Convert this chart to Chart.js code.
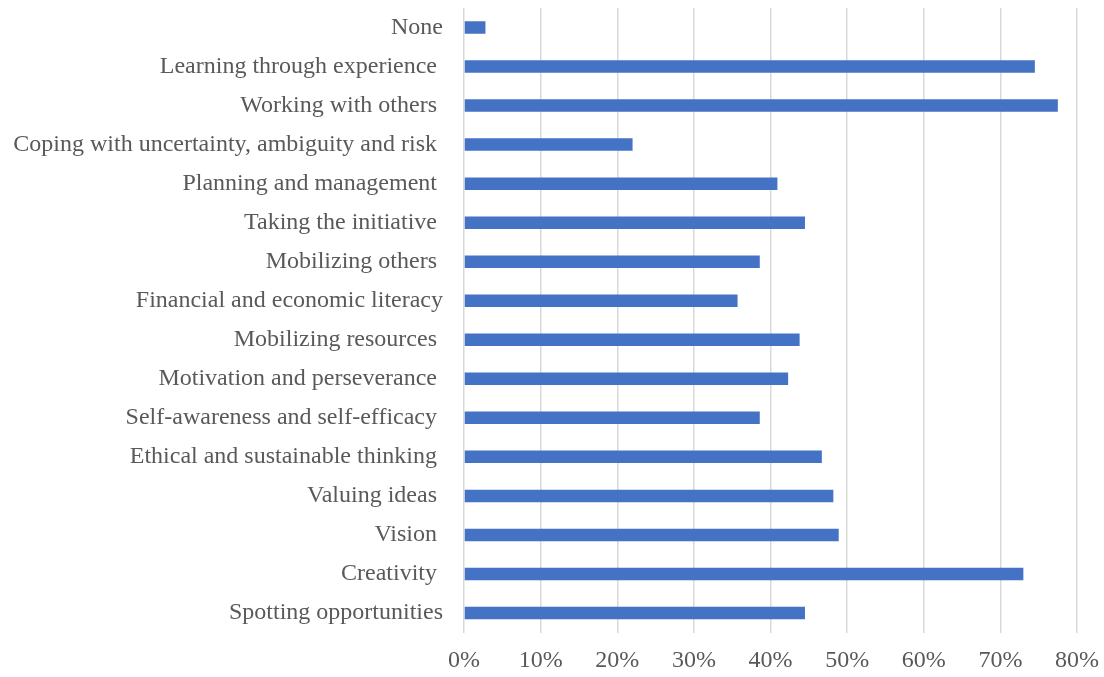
<!DOCTYPE html>
<html>
<head>
<meta charset="utf-8">
<script src="https://cdn.jsdelivr.net/npm/chart.js@4/dist/chart.umd.min.js"></script>
<style>
  html, body { margin: 0; padding: 0; background: #ffffff; }
  #wrap { width: 1104px; height: 677px; position: relative; }
</style>
</head>
<body>
<div id="wrap"><canvas id="c" width="1104" height="677"></canvas></div>
<script>
const categories = [
  "None",
  "Learning through experience ",
  "Working with others ",
  "Coping with uncertainty, ambiguity and risk ",
  "Planning and management ",
  "Taking the initiative ",
  "Mobilizing others ",
  "Financial and economic literacy",
  "Mobilizing resources ",
  "Motivation and perseverance ",
  "Self-awareness and self-efficacy ",
  "Ethical and sustainable thinking ",
  "Valuing ideas ",
  "Vision ",
  "Creativity ",
  "Spotting opportunities"
];
const shares = [2.8, 74.5, 77.5, 22.0, 40.9, 44.5, 38.6, 35.7, 43.8, 42.3, 38.6, 46.7, 48.2, 48.9, 73.0, 44.5];
const xTickMax = 80;
const xTickStep = 10;

const FONT = "'Liberation Serif', 'Times New Roman', serif";
const TEXT = "#595959";

new Chart(document.getElementById('c'), {
  type: 'bar',
  data: {
    labels: categories,
    datasets: [{
      data: shares,
      backgroundColor: '#4472C4',
      borderWidth: 0,
      categoryPercentage: 1,
      barPercentage: 0.32
    }]
  },
  options: {
    indexAxis: 'y',
    responsive: false,
    animation: false,
    layout: { padding: { top: 8, right: 27, bottom: 0, left: 0 } },
    plugins: { legend: { display: false }, tooltip: { enabled: false } },
    scales: {
      x: {
        min: 0,
        max: xTickMax,
        ticks: {
          stepSize: xTickStep,
          color: TEXT,
          font: { family: FONT, size: 24 },
          padding: 14,
          callback: v => v + '%'
        },
        grid: { color: '#d9d9d9', lineWidth: 1.5, drawTicks: false },
        border: { display: false },
        afterFit: s => { s.height = 677 - 632.5; s.paddingLeft = 0; s.paddingRight = 0; }
      },
      y: {
        ticks: {
          color: TEXT,
          font: { family: FONT, size: 24 },
          padding: 21,
          autoSkip: false
        },
        grid: { display: false, drawTicks: false },
        border: { display: false },
        afterFit: s => { s.width = 464; s.paddingTop = 0; s.paddingBottom = 0; }
      }
    }
  }
});
</script>
</body>
</html>
